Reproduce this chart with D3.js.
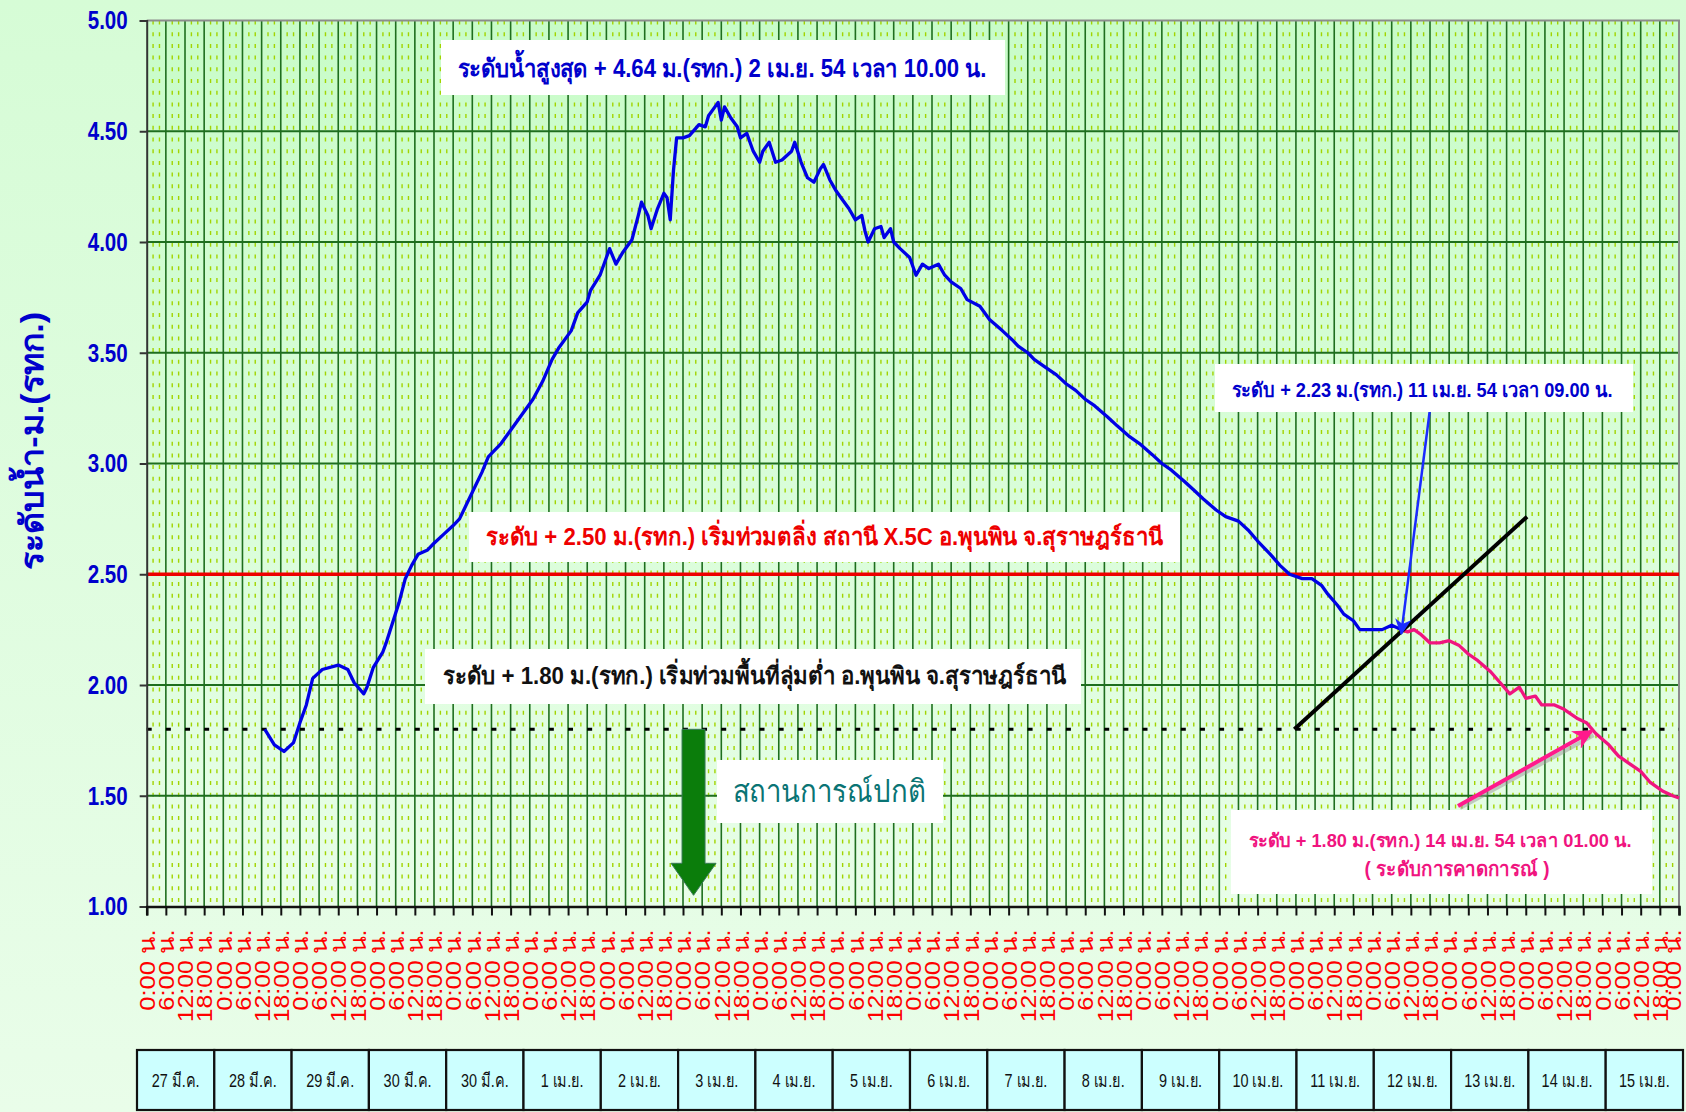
<!DOCTYPE html>
<html>
<head>
<meta charset="utf-8">
<script src="https://cdn.jsdelivr.net/npm/d3@7"></script>
<style>
html,body{margin:0;padding:0;background:#dcfcdc;}
svg{display:block;}
</style>
</head>
<body>
<div id="chart"></div>
<script>
// x is hours from the left edge of the axis (6 h per tick, 20 days)
const obsHours=[37,40,43,46,48,50,52,55,60,63,65,68,69,71,74,75,77,79,81,83,
85,88,90,93,96,98,100,102,105,107,111,114,117,121,124,127,129,133,135,138,
139,142,144,145,147,149,152,154,155,157,158,160,162,163,164,165,166,168,170,173,
175,176,178,179,180,181,183,185,186,188,190,192,193,195,197,199,202,203,205,207,
209,211,212,214,216,218,220,222,224,225,226,228,230,231,233,234,236,239,241,243,
245,248,250,252,255,257,261,264,268,271,273,276,278,281,285,288,291,294,297,301,
304,308,311,315,318,321,325,328,331,335,338,342,345,348,352,355,358,362,365,368,
370,373,375,378,380,384,387,390,393];
const obsLevels=[1.80,1.73,1.70,1.74,1.83,1.91,2.03,2.07,2.09,2.07,
2.01,1.96,1.99,2.08,2.15,2.19,2.28,2.37,2.48,2.54,
2.59,2.61,2.64,2.68,2.72,2.75,2.81,2.87,2.96,3.03,
3.09,3.15,3.21,3.29,3.37,3.47,3.52,3.60,3.68,3.73,
3.78,3.85,3.93,3.97,3.90,3.95,4.01,4.12,4.18,4.12,
4.06,4.15,4.22,4.20,4.10,4.32,4.47,4.47,4.48,4.53,
4.52,4.57,4.61,4.63,4.55,4.61,4.56,4.52,4.47,4.49,
4.41,4.36,4.41,4.45,4.36,4.37,4.41,4.45,4.36,4.29,
4.27,4.33,4.35,4.28,4.23,4.19,4.15,4.10,4.12,4.05,
4.00,4.06,4.07,4.02,4.06,4.00,3.97,3.93,3.85,3.90,
3.88,3.90,3.85,3.82,3.79,3.74,3.71,3.65,3.60,3.56,
3.53,3.50,3.47,3.44,3.40,3.36,3.33,3.29,3.26,3.21,
3.17,3.12,3.09,3.04,3.00,2.97,2.92,2.88,2.84,2.79,
2.76,2.74,2.70,2.65,2.59,2.54,2.50,2.48,2.48,2.45,
2.41,2.36,2.32,2.29,2.25,2.25,2.25,2.27,2.25];
const fcHours=[393,395,397,399,402,405,408,411,414,417,421,424,427,430,432,
435,437,441,444,448,451,454,458,461,464,468,471,475,478,480];
const fcLevels=[2.25,2.24,2.25,2.23,2.19,2.19,2.20,2.18,2.14,2.11,2.06,2.01,1.96,1.99,1.94,
1.95,1.91,1.91,1.89,1.85,1.83,1.78,1.73,1.68,1.65,1.61,1.56,1.52,1.50,1.49];

const dayLabels=['27 มี.ค.','28 มี.ค.','29 มี.ค.','30 มี.ค.','30 มี.ค.','1 เม.ย.','2 เม.ย.',
'3 เม.ย.','4 เม.ย.','5 เม.ย.','6 เม.ย.','7 เม.ย.','8 เม.ย.','9 เม.ย.','10 เม.ย.',
'11 เม.ย.','12 เม.ย.','13 เม.ย.','14 เม.ย.','15 เม.ย.'];
const hourLabels=['0:00 น.','6:00 น.','12:00 น.','18:00 น.'];
const yTicks=[1,1.5,2,2.5,3,3.5,4,4.5,5];
const bankLevel=2.5;
const lowLevel=1.8;

const W=1686,H=1112;
const margin={top:20.5,right:7,bottom:205.5,left:146.7};
const width=W-margin.left-margin.right;
const height=H-margin.top-margin.bottom;
const thai='"Liberation Sans Narrow","Arial Narrow","Liberation Sans",sans-serif';

const x=d3.scaleLinear().domain([0,480]).range([0,width]);
const y=d3.scaleLinear().domain([1,5]).range([height,0]);

const svg=d3.select('#chart').append('svg')
  .attr('width',W).attr('height',H);

const defs=svg.append('defs');
const pg=defs.append('linearGradient').attr('id','pageBg').attr('x1',0).attr('y1',0).attr('x2',0).attr('y2',1);
pg.append('stop').attr('offset','0%').attr('stop-color','#d6fcd6');
pg.append('stop').attr('offset','100%').attr('stop-color','#e9fde9');
const plg=defs.append('linearGradient').attr('id','plotBg').attr('x1',0).attr('y1',0).attr('x2',0).attr('y2',1);
plg.append('stop').attr('offset','0%').attr('stop-color','#c8fcc8');
plg.append('stop').attr('offset','100%').attr('stop-color','#e8fee8');

function marker(id,color,size){
  defs.append('marker').attr('id',id)
    .attr('viewBox','0 0 10 10').attr('refX',9).attr('refY',5)
    .attr('markerWidth',size).attr('markerHeight',size)
    .attr('markerUnits','userSpaceOnUse').attr('orient','auto')
    .append('path').attr('d','M0,0L10,5L0,10L3,5Z').attr('fill',color);
}
marker('arrBlue','#1a2bff',16);
marker('arrPink','#ff1a8c',20);

svg.append('rect').attr('width',W).attr('height',H).attr('fill','url(#pageBg)');

const g=svg.append('g').attr('transform',`translate(${margin.left},${margin.top})`);

g.append('rect').attr('width',width).attr('height',height).attr('fill','url(#plotBg)');

// minor grid (2 h)
g.selectAll('.minor')
  .data(d3.range(0,480,2).filter(d=>d%6!==0))
  .enter().append('line')
  .attr('x1',d=>x(d)).attr('x2',d=>x(d))
  .attr('y1',0).attr('y2',height)
  .attr('stroke','#a2d400').attr('stroke-width',1.4)
  .attr('stroke-dasharray','4,7.7');

// major grid (6 h)
g.selectAll('.vgrid')
  .data(d3.range(6,480,6))
  .enter().append('line')
  .attr('x1',d=>x(d)).attr('x2',d=>x(d))
  .attr('y1',0).attr('y2',height)
  .attr('stroke','#1e6e1e').attr('stroke-width',1.6);

g.selectAll('.hgrid')
  .data(yTicks.filter(d=>d>1&&d<5))
  .enter().append('line')
  .attr('x1',0).attr('x2',width)
  .attr('y1',d=>y(d)).attr('y2',d=>y(d))
  .attr('stroke','#1e6e1e').attr('stroke-width',2);

// frame top/right
g.append('path').attr('d',`M0,0H${width}V${height}`)
  .attr('fill','none').attr('stroke','#8c8c8c').attr('stroke-width',2);

// white label boxes
function box(x0,y0,w,h){
  svg.append('rect').attr('x',x0).attr('y',y0).attr('width',w).attr('height',h).attr('fill','#fff');
}
box(441,40,564,55);
box(469,512,711,50);
box(425,649,656,55);
box(717,760,226,63);
box(1215,364,418,48);
box(1231,810,421,84);

// reference levels
g.append('line').attr('x1',0).attr('x2',width)
  .attr('y1',y(bankLevel)).attr('y2',y(bankLevel))
  .attr('stroke','#ee0000').attr('stroke-width',3.5);
g.append('line').attr('x1',x(0)).attr('x2',width)
  .attr('y1',y(lowLevel)).attr('y2',y(lowLevel))
  .attr('stroke','#000').attr('stroke-width',3)
  .attr('stroke-dasharray','5,14.15');

// series
const line=d3.line().x(d=>x(d[0])).y(d=>y(d[1]));
g.append('path').datum(d3.zip(obsHours,obsLevels))
  .attr('fill','none').attr('stroke','#0000e6').attr('stroke-width',3.3)
  .attr('stroke-linejoin','round').attr('d',line);
g.append('path').datum(d3.zip(fcHours,fcLevels))
  .attr('fill','none').attr('stroke','#f0147f').attr('stroke-width',3.3)
  .attr('stroke-linejoin','round').attr('d',line);

// black trend line
g.append('line')
  .attr('x1',x(359.5)).attr('y1',y(1.8))
  .attr('x2',x(432.4)).attr('y2',y(2.76))
  .attr('stroke','#000').attr('stroke-width',4);

// green arrow "normal situation"
const ax=x(171.3), at=y(lowLevel);
g.append('path')
  .attr('d',`M${ax-11.5},${at}H${ax+11.5}V${at+134}H${ax+22.5}L${ax},${at+166}L${ax-22.5},${at+134}H${ax-11.5}Z`)
  .attr('fill','#0b7d0b').attr('stroke','#3a7a5a').attr('stroke-width',1);

// blue callout arrow
g.append('line')
  .attr('x1',1430-margin.left).attr('y1',409-margin.top)
  .attr('x2',x(393)).attr('y2',y(2.25)+4)
  .attr('stroke','#1a2bff').attr('stroke-width',2.5)
  .attr('marker-end','url(#arrBlue)');

// pink callout arrow
g.append('line')
  .attr('x1',1458-margin.left).attr('y1',806-margin.top)
  .attr('x2',x(452)+2).attr('y2',y(lowLevel)+4)
  .attr('stroke','#999').attr('stroke-width',4).attr('opacity',0.5)
  .attr('transform','translate(2,2)');
g.append('line')
  .attr('x1',1458-margin.left).attr('y1',806-margin.top)
  .attr('x2',x(452)+2).attr('y2',y(lowLevel)+2)
  .attr('stroke','#ff1a8c').attr('stroke-width',4)
  .attr('marker-end','url(#arrPink)');

// axes
const yaxis=g.append('g')
  .call(d3.axisLeft(y).tickValues(yTicks).tickFormat(d3.format('.2f')).tickSize(7).tickPadding(12));
yaxis.select('.domain').attr('stroke','#333').attr('stroke-width',2);
yaxis.selectAll('.tick line').attr('stroke','#333').attr('stroke-width',2);
yaxis.selectAll('text').attr('fill','#0000cc').attr('font-family',thai)
  .attr('font-weight','bold').attr('font-size',26)
  .attr('textLength',40).attr('lengthAdjust','spacingAndGlyphs');

const xaxis=g.append('g').attr('transform',`translate(0,${height})`)
  .call(d3.axisBottom(x).tickValues(d3.range(0,481,6)).tickSize(9)
    .tickFormat((d,i)=>hourLabels[i%4]));
xaxis.select('.domain').attr('stroke','#111').attr('stroke-width',2.5);
xaxis.selectAll('.tick line').attr('stroke','#111').attr('stroke-width',2);
xaxis.selectAll('text')
  .attr('transform','rotate(-90)')
  .attr('x',-23).attr('y',(d,i)=>i===80?-6:0).attr('dy','0.35em')
  .attr('text-anchor','end')
  .attr('fill','#ff0000').attr('font-family','"Liberation Sans",sans-serif')
  .attr('font-size',22)
  .attr('textLength',function(){return this.textContent.length*11.6;})
  .attr('lengthAdjust','spacingAndGlyphs');

// y title
svg.append('text')
  .attr('transform','translate(32,441) rotate(-90)')
  .attr('text-anchor','middle').attr('dy','0.35em')
  .attr('fill','#0000cc').attr('font-family',thai).attr('font-weight','bold')
  .attr('font-size',32)
  .attr('textLength',258).attr('lengthAdjust','spacingAndGlyphs')
  .text('ระดับน้ำ-ม.(รทก.)');

// day boxes
const dayBand=d3.scaleBand().domain(dayLabels.map((d,i)=>i)).range([137,1683]);
const days=svg.append('g');
days.selectAll('rect').data(dayLabels).enter().append('rect')
  .attr('x',(d,i)=>dayBand(i)).attr('y',1050)
  .attr('width',dayBand.bandwidth()).attr('height',60)
  .attr('fill','#ccffff').attr('stroke','#111').attr('stroke-width',2.2);
days.selectAll('text').data(dayLabels).enter().append('text')
  .attr('x',(d,i)=>dayBand(i)+dayBand.bandwidth()/2).attr('y',1080)
  .attr('dy','0.35em').attr('text-anchor','middle')
  .attr('font-family',thai).attr('font-size',19).attr('fill','#111')
  .text(d=>d)
  .each(function(){
    const n=this.getComputedTextLength();
    d3.select(this).attr('textLength',n*0.76).attr('lengthAdjust','spacingAndGlyphs');
  });

// annotation texts
function note(cx,cy,txt,color,size,len,weight){
  const t=svg.append('text').attr('x',cx).attr('y',cy).attr('dy','0.35em')
    .attr('text-anchor','middle').attr('fill',color)
    .attr('font-family',thai).attr('font-weight',weight||'bold')
    .attr('font-size',size).text(txt);
  if(len) t.attr('textLength',len).attr('lengthAdjust','spacingAndGlyphs');
}
note(722,68,'ระดับน้ำสูงสุด + 4.64 ม.(รทก.) 2 เม.ย. 54 เวลา 10.00 น.','#0000cc',25,529);
note(824,537,'ระดับ + 2.50 ม.(รทก.) เริ่มท่วมตลิ่ง สถานี X.5C อ.พุนพิน จ.สุราษฎร์ธานี','#ee0000',24,677);
note(754,676,'ระดับ + 1.80 ม.(รทก.) เริ่มท่วมพื้นที่ลุ่มต่ำ อ.พุนพิน จ.สุราษฎร์ธานี','#111',24,623);
note(829,791,'สถานการณ์ปกติ','#0a7474',31,193,'normal');
note(1422,390,'ระดับ + 2.23 ม.(รทก.) 11 เม.ย. 54 เวลา 09.00 น.','#0000cc',20,381);
note(1440,840,'ระดับ + 1.80 ม.(รทก.) 14 เม.ย. 54 เวลา 01.00 น.','#f0147f',19,383);
note(1457,869,'( ระดับการคาดการณ์ )','#f0147f',20,185);
</script>
</body>
</html>
